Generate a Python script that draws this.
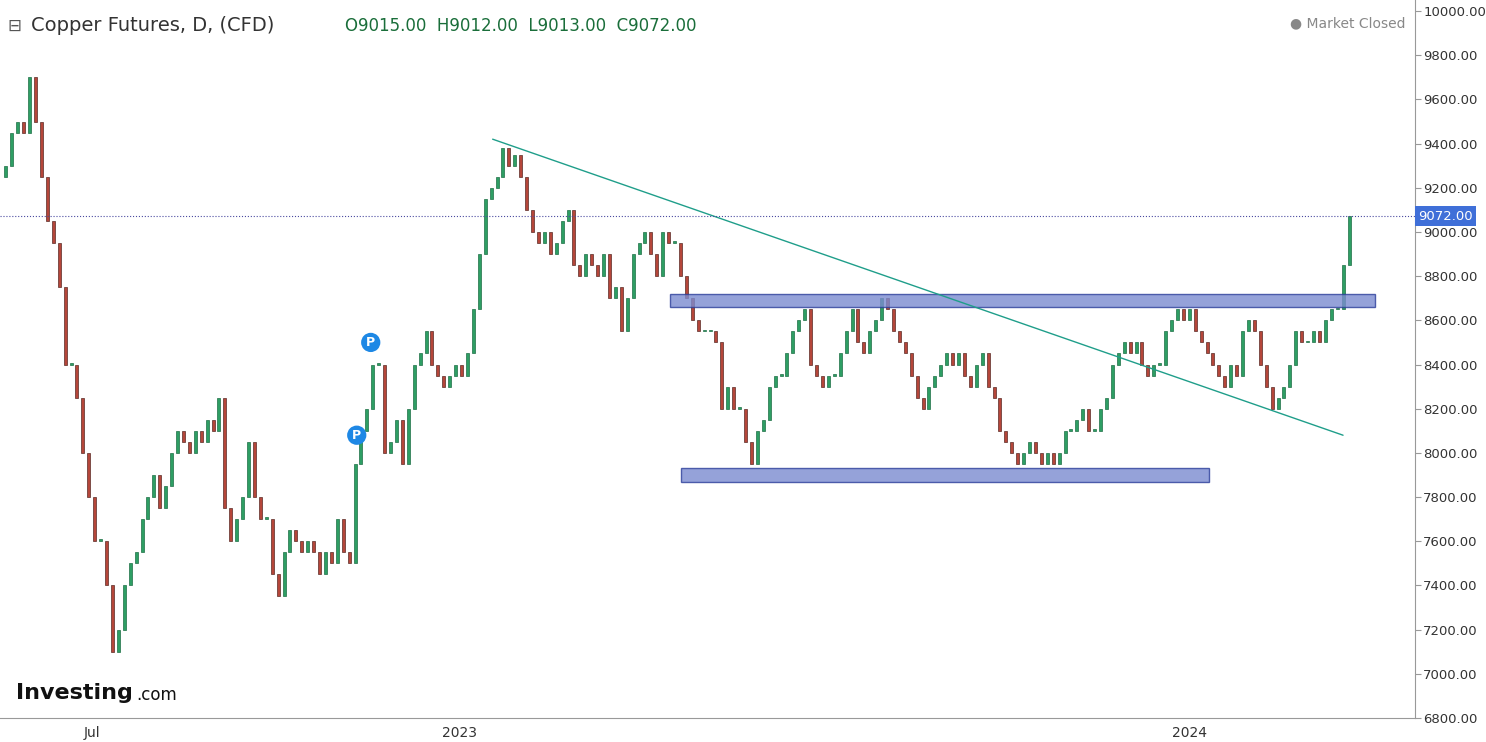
import numpy as np, pandas as pd, seaborn as sns, matplotlib
matplotlib.use("Agg")
import matplotlib.pyplot as plt
import matplotlib.dates as mdates
from matplotlib.patches import Rectangle

sns.set_style("white")
plt.rcParams['font.family'] = ['DejaVu Sans']

closes = [9300,9450,9500,9450,9700,9500,9250,9050,8950,8750,8400,8400,8250,8000,7800,7600,7600,7400,7100,7200,
 7400,7500,7550,7700,7800,7900,7750,7850,8000,8100,8050,8000,8100,8050,8150,8100,8250,7750,7600,7700,
 7800,8050,7800,7700,7700,7450,7350,7550,7650,7600,7550,7600,7550,7450,7550,7500,7700,7550,7500,7950,
 8100,8200,8400,8400,8000,8050,8150,7950,8200,8400,8450,8550,8400,8350,8300,8350,8400,8350,8450,8650,
 8900,9150,9200,9250,9380,9300,9350,9250,9100,9000,8950,9000,8900,8950,9050,9100,8850,8800,8900,8850,
 8800,8900,8700,8750,8550,8700,8900,8950,9000,8900,8800,9000,8950,8950,8800,8700,8600,8550,8550,8550,
 8500,8200,8300,8200,8200,8050,7950,8100,8150,8300,8350,8350,8450,8550,8600,8650,8400,8350,8300,8350,
 8350,8450,8550,8650,8500,8450,8550,8600,8700,8650,8550,8500,8450,8350,8250,8200,8300,8350,8400,8450,
 8400,8450,8350,8300,8400,8450,8300,8250,8100,8050,8000,7950,8000,8050,8000,7950,8000,7950,8000,8100,
 8100,8150,8200,8100,8100,8200,8250,8400,8450,8500,8450,8500,8400,8350,8400,8400,8550,8600,8650,8600,
 8650,8550,8500,8450,8400,8350,8300,8400,8350,8550,8600,8550,8400,8300,8200,8250,8300,8400,8550,8500,
 8500,8550,8500,8600,8650,8650,8850,9072]
opens = [9250] + closes[:-1]
start_date, end_date = "2022-05-19", "2024-03-21"
last_price = 9072.00
yticks = np.arange(6800, 10001, 200)

dates = pd.date_range(start_date, end_date, periods=len(closes))
df = pd.DataFrame({"date": dates, "open": opens, "close": closes})

fig = plt.figure(figsize=(14.86, 7.42), dpi=100)
ax = fig.add_axes([0, 1-718/742, 1415/1486, 718/742])
up = df.close >= df.open
green, red = "#2e9e64", "#b5463a"
for m, c, ec in [(up, green, "#1d6e44"), (~up, red, "#5a2a25")]:
    d = df[m]
    h = (d.close - d.open).abs().clip(lower=8)
    ax.bar(d.date, h, bottom=np.minimum(d.open, d.close), width=1.5, color=c, edgecolor=ec, linewidth=0.5)

ax.set_ylim(6800, 10050)
ax.set_xlim(pd.Timestamp("2022-05-16"), pd.Timestamp("2024-04-23"))
ax.yaxis.tick_right()
ax.set_yticks(yticks)
ax.set_yticklabels([f"{v:.2f}" for v in yticks], fontsize=9.5, color="#333")
tk = pd.date_range("2022-07-01", "2024-03-01", freq="2MS")
ax.set_xticks(tk)
ax.set_xticklabels(["Jul" if t.month == 7 and t.year == 2022 else (str(t.year) if t.month == 1 else "") for t in tk],
                   fontsize=10, color="#333")
ax.tick_params(length=4, color="#999", pad=2)
for s in ["top", "left"]:
    ax.spines[s].set_visible(False)
ax.spines["right"].set_color("#999"); ax.spines["bottom"].set_color("#999")

def D(x):  # pixel to date helper for annotations
    return pd.Timestamp("2022-07-01") + pd.Timedelta(days=(x - 92) / 2.0)

for x0, x1, y0, y1 in [(670, 1376, 8660, 8720), (681, 1210, 7870, 7930)]:
    a, b = mdates.date2num(D(x0)), mdates.date2num(D(x1))
    ax.add_patch(Rectangle((a, y0), b - a, y1 - y0, facecolor="#7b8bd0", edgecolor="#2c3e9a", alpha=0.8, lw=1))
ax.plot([D(493), D(1344)], [9420, 8080], color="#1f9e8a", lw=1)
ax.axhline(last_price, color="#4a4aa0", lw=0.8, ls=":")
ax.text(1.002, last_price, f"{last_price:.2f}", transform=ax.get_yaxis_transform(), va="center", ha="left",
        fontsize=9.5, color="white", bbox=dict(boxstyle="square,pad=0.25", fc="#3f6fd8", ec="none"))

fig.text(0.005, 0.965, "⊟", fontsize=12, color="#555", va="center")
fig.text(0.021, 0.965, "Copper Futures, D, (CFD)", fontsize=14, color="#333", va="center")
fig.text(0.232, 0.965, "O9015.00  H9012.00  L9013.00  C9072.00", fontsize=12, color="#1a6e3a", va="center")
fig.text(0.946, 0.968, "● Market Closed", fontsize=10, color="#888", va="center", ha="right")
fig.text(0.011, 0.066, "Investing", fontsize=16, fontweight="bold", color="#111", va="center")
fig.text(0.0915, 0.064, ".com", fontsize=12, color="#111", va="center")
for x, y in [(371, 8500), (357, 8080)]:
    ax.text(D(x), y, "P", ha="center", va="center", color="white", fontsize=9, fontweight="bold",
            bbox=dict(boxstyle="circle,pad=0.25", fc="#1e88e5", ec="none"))
fig.savefig("out.png", dpi=100)
